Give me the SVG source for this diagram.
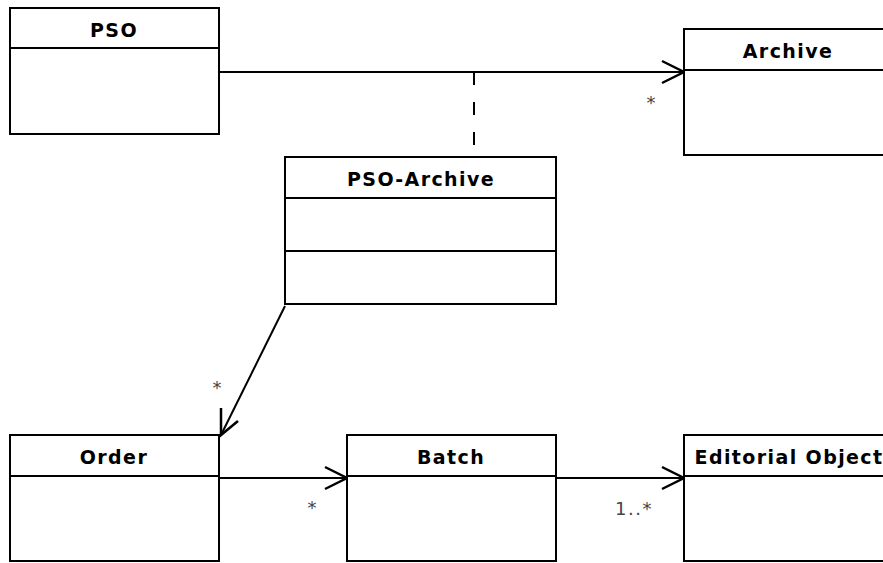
<svg xmlns="http://www.w3.org/2000/svg" width="883" height="563" viewBox="0 0 883 563">
<defs>
<style>
.box{fill:#fff;stroke:#000;stroke-width:2}
.sep{stroke:#000;stroke-width:2}
.title{font-family:"DejaVu Sans",sans-serif;font-weight:bold;font-size:19px;letter-spacing:1.4px;text-anchor:middle;fill:#000}
.mult{font-family:"DejaVu Sans",sans-serif;font-size:18px;fill:#444}
.line{stroke:#000;stroke-width:2;fill:none}
.head{stroke:#000;stroke-width:2.5;fill:none}
</style>
</defs>
<rect width="883" height="563" fill="#fff"/>
<g id="connectors">
<line class="line" x1="220" y1="72" x2="684" y2="72"/>
<polyline class="head" points="662,61 684,72 662,83"/>
<line class="line" x1="474" y1="72" x2="474" y2="157" stroke-dasharray="13,17"/>
<line class="line" x1="285" y1="306" x2="221" y2="435"/>
<polyline class="head" points="221,408 221,435 238,421"/>
<line class="line" x1="220" y1="478" x2="347" y2="478"/>
<polyline class="head" points="325,467 347,478 325,489"/>
<line class="line" x1="557" y1="478" x2="684" y2="478"/>
<polyline class="head" points="662,467 684,478 662,489"/>
<text class="mult" x="651" y="109" text-anchor="middle">*</text>
<text class="mult" x="217" y="394" text-anchor="middle">*</text>
<text class="mult" x="312" y="514" text-anchor="middle">*</text>
<text class="mult" x="615" y="515" letter-spacing="1.5">1..*</text>
</g>
<g id="PSO">
<rect class="box" x="10" y="8" width="209" height="126"/>
<line class="sep" x1="10" y1="48" x2="219" y2="48"/>
<text class="title" x="114" y="37">PSO</text>
</g>
<g id="Archive">
<rect class="box" x="684" y="29" width="209" height="126"/>
<line class="sep" x1="684" y1="70" x2="893" y2="70"/>
<text class="title" x="788" y="58">Archive</text>
</g>
<g id="PSO-Archive">
<rect class="box" x="285" y="157" width="271" height="147"/>
<line class="sep" x1="285" y1="198" x2="556" y2="198"/>
<line class="sep" x1="285" y1="251" x2="556" y2="251"/>
<text class="title" x="421" y="186">PSO-Archive</text>
</g>
<g id="Order">
<rect class="box" x="10" y="435" width="209" height="126"/>
<line class="sep" x1="10" y1="476" x2="219" y2="476"/>
<text class="title" x="114" y="464">Order</text>
</g>
<g id="Batch">
<rect class="box" x="347" y="435" width="209" height="126"/>
<line class="sep" x1="347" y1="476" x2="556" y2="476"/>
<text class="title" x="451" y="464">Batch</text>
</g>
<g id="EditorialObject">
<rect class="box" x="684" y="435" width="209" height="126"/>
<line class="sep" x1="684" y1="476" x2="893" y2="476"/>
<text class="title" x="789" y="464">Editorial Object</text>
</g>
</svg>
